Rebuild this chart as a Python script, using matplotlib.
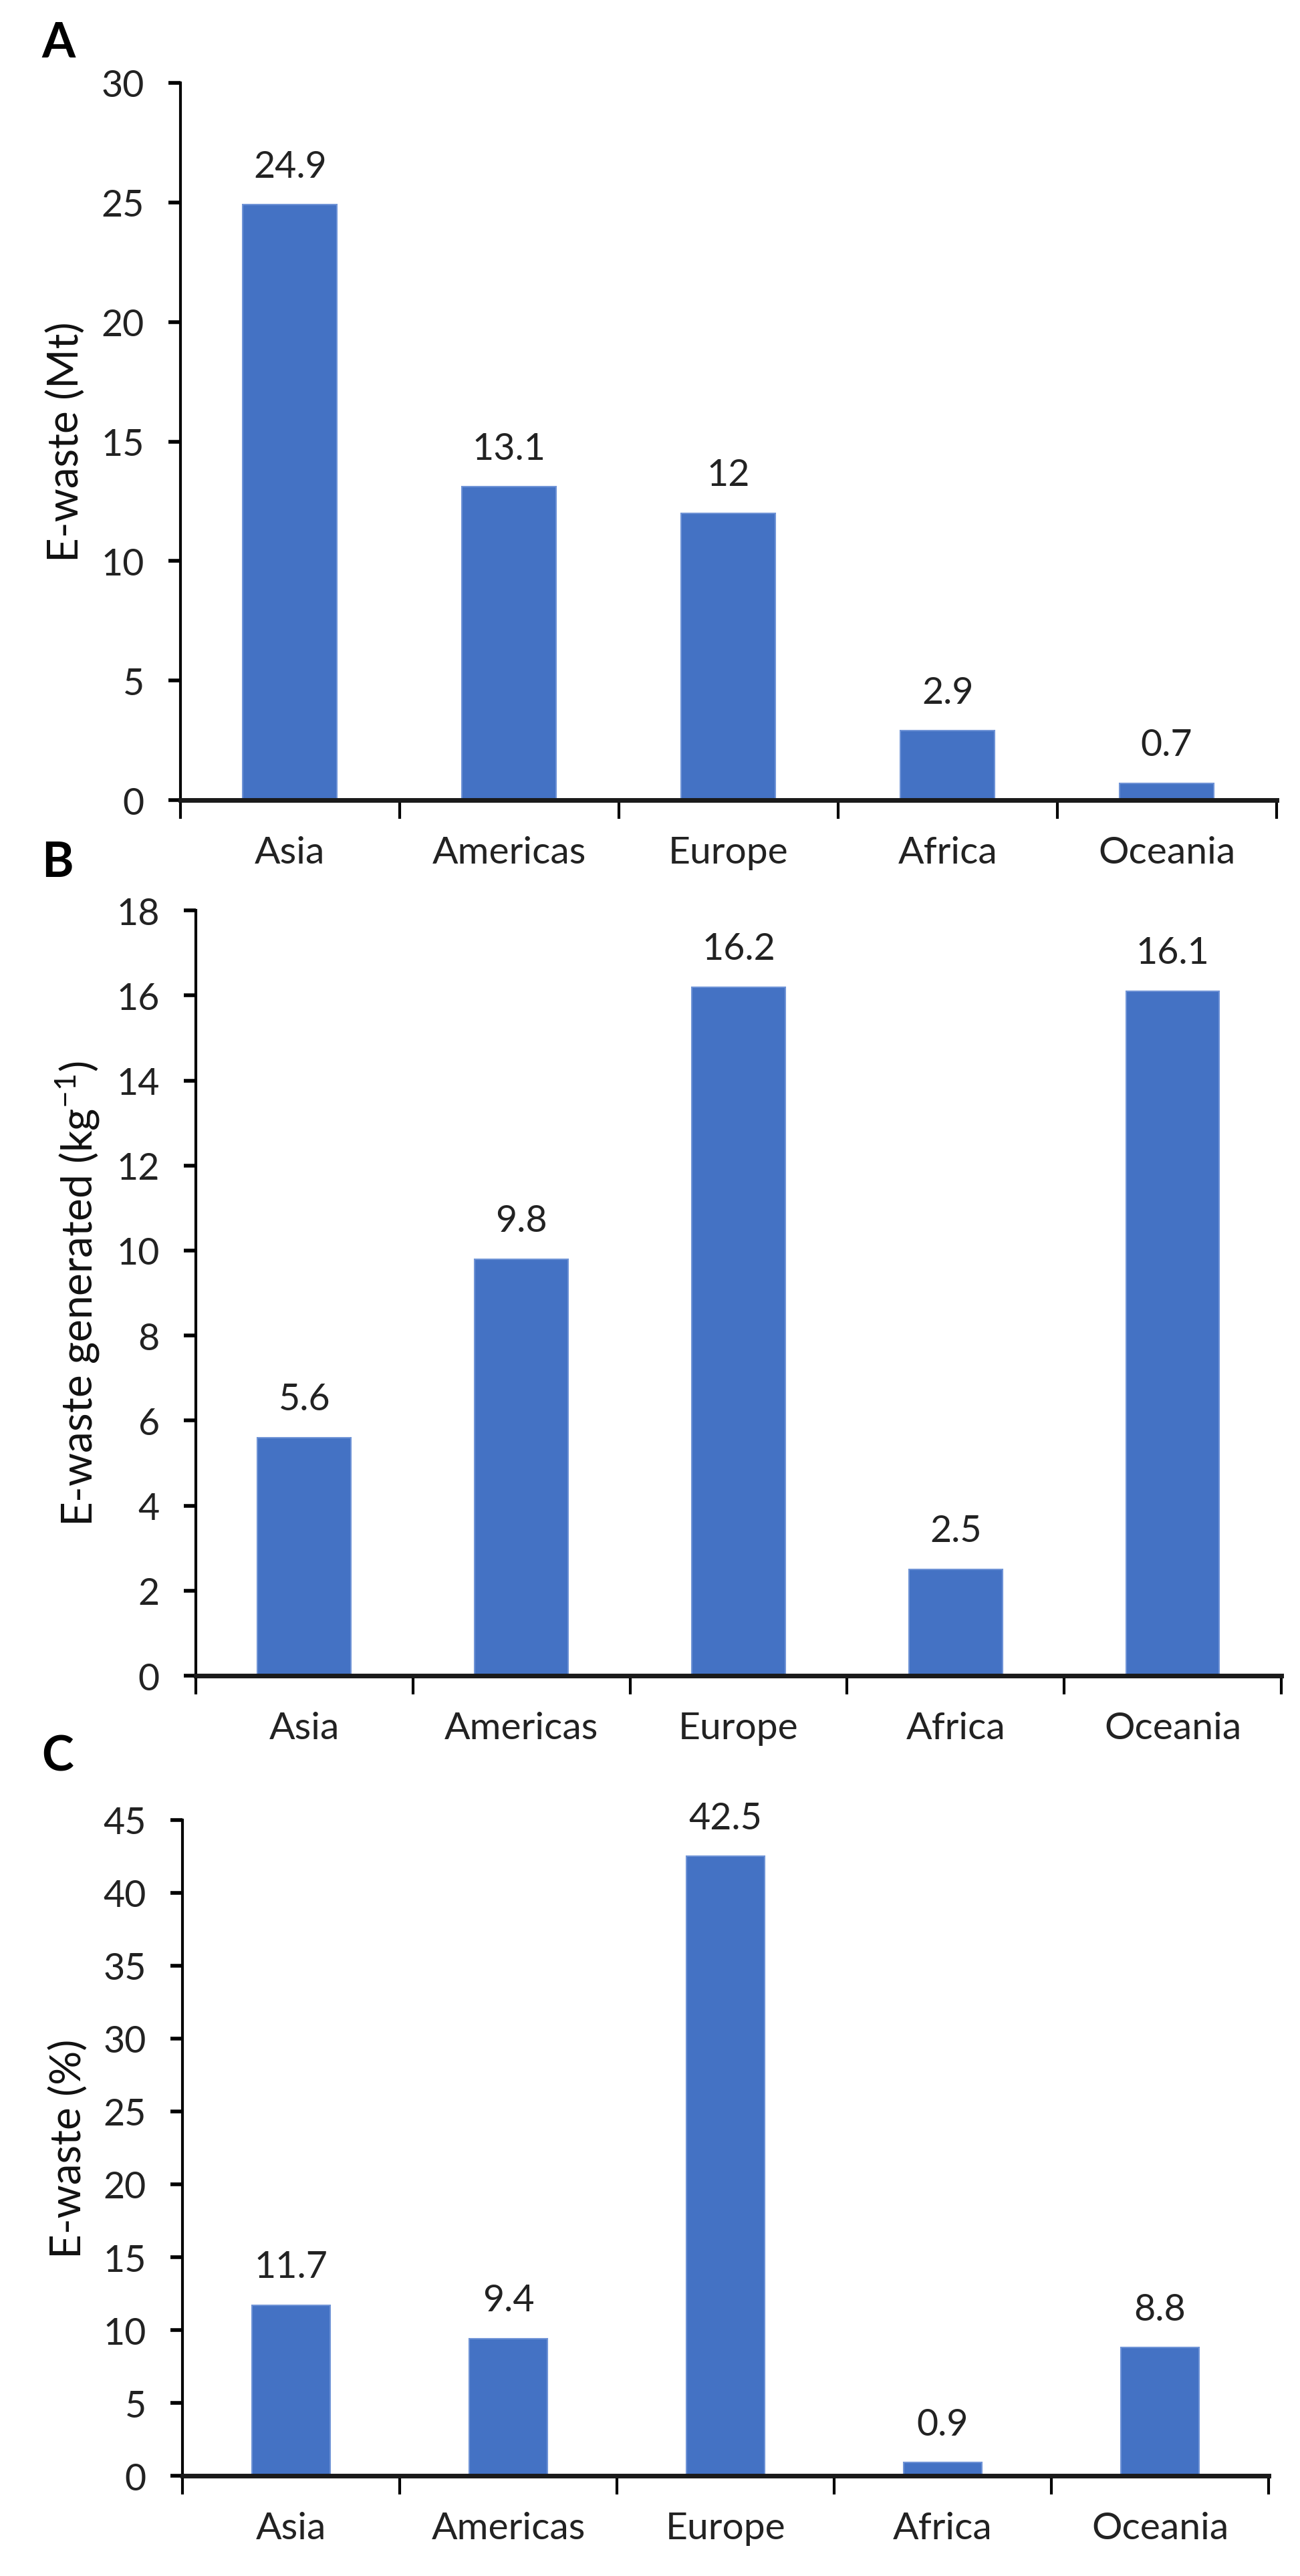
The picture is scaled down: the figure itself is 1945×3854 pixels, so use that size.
import matplotlib
matplotlib.use("Agg")
import matplotlib.pyplot as plt
from matplotlib.ticker import FixedLocator, NullFormatter

plt.rcParams['font.family'] = ['Lato', 'DejaVu Sans']

regions = ["Asia", "Americas", "Europe", "Africa", "Oceania"]
ewaste_mt = [24.9, 13.1, 12, 2.9, 0.7]
ewaste_kg = [5.6, 9.8, 16.2, 2.5, 16.1]
ewaste_pct = [11.7, 9.4, 42.5, 0.9, 8.8]
labels_mt = ["24.9", "13.1", "12", "2.9", "0.7"]
labels_kg = ["5.6", "9.8", "16.2", "2.5", "16.1"]
labels_pct = ["11.7", "9.4", "42.5", "0.9", "8.8"]

BAR = "#4472C4"
FS = 40

fig = plt.figure(figsize=(19.45, 38.55), dpi=100)

panels = [
    dict(rect=[0.1388, 0.6892, 0.843, 0.2784], vals=ewaste_mt, labs=labels_mt,
         ylim=30, step=5, ylabel="E-waste (Mt)", letter="A", ly=0.983, width=0.43),
    dict(rect=[0.1506, 0.3494, 0.835, 0.2970], vals=ewaste_kg, labs=labels_kg,
         ylim=18, step=2, ylabel="E-waste generated (kg$^{\\mathregular{-1}}$)", letter="B", ly=0.665, width=0.43),
    dict(rect=[0.1404, 0.0389, 0.8355, 0.2545], vals=ewaste_pct, labs=labels_pct,
         ylim=45, step=5, ylabel="E-waste (%)", letter="C", ly=0.318, width=0.36),
]

for p in panels:
    ax = fig.add_axes(p["rect"])
    x = list(range(len(regions)))
    bars = ax.bar(x, p["vals"], width=p["width"], color=BAR, edgecolor="#6f93d6", linewidth=1.5, zorder=2)
    ax.set_xlim(-0.5, len(regions) - 0.5)
    ax.set_ylim(0, p["ylim"])
    ax.set_yticks(list(range(0, p["ylim"] + 1, p["step"])))
    ax.set_xticks(x)
    ax.set_xticklabels(regions, fontsize=41)
    ax.xaxis.set_minor_locator(FixedLocator([i - 0.5 for i in range(len(regions) + 1)]))
    ax.xaxis.set_minor_formatter(NullFormatter())
    ax.tick_params(axis='x', which='major', length=0, pad=38, colors='#222222', labelcolor='#222222')
    ax.tick_params(axis='x', which='minor', length=20, width=3, direction='out', color='black')
    ax.tick_params(axis='y', length=13, width=4, direction='out', pad=26, labelsize=FS, labelcolor='#222222')
    for s in ["top", "right"]:
        ax.spines[s].set_visible(False)
    ax.spines["left"].set_linewidth(3)
    ax.spines["bottom"].set_linewidth(5)
    ax.spines["bottom"].set_color("#1a1a1a")
    ax.spines["bottom"].set_zorder(3)
    for b, t in zip(bars, p["labs"]):
        ax.annotate(t, (b.get_x() + b.get_width() / 2, b.get_height()),
                    xytext=(0, 30), textcoords="offset points",
                    ha="center", va="baseline", fontsize=FS, color="#222222")
    ax.set_ylabel(p["ylabel"], fontsize=46, color="#111111", labelpad=16)
    fig.text(0.032, p["ly"], p["letter"], fontsize=52, fontweight="bold", ha="left", va="center")

fig.savefig("out.png", dpi=100, facecolor="white")
